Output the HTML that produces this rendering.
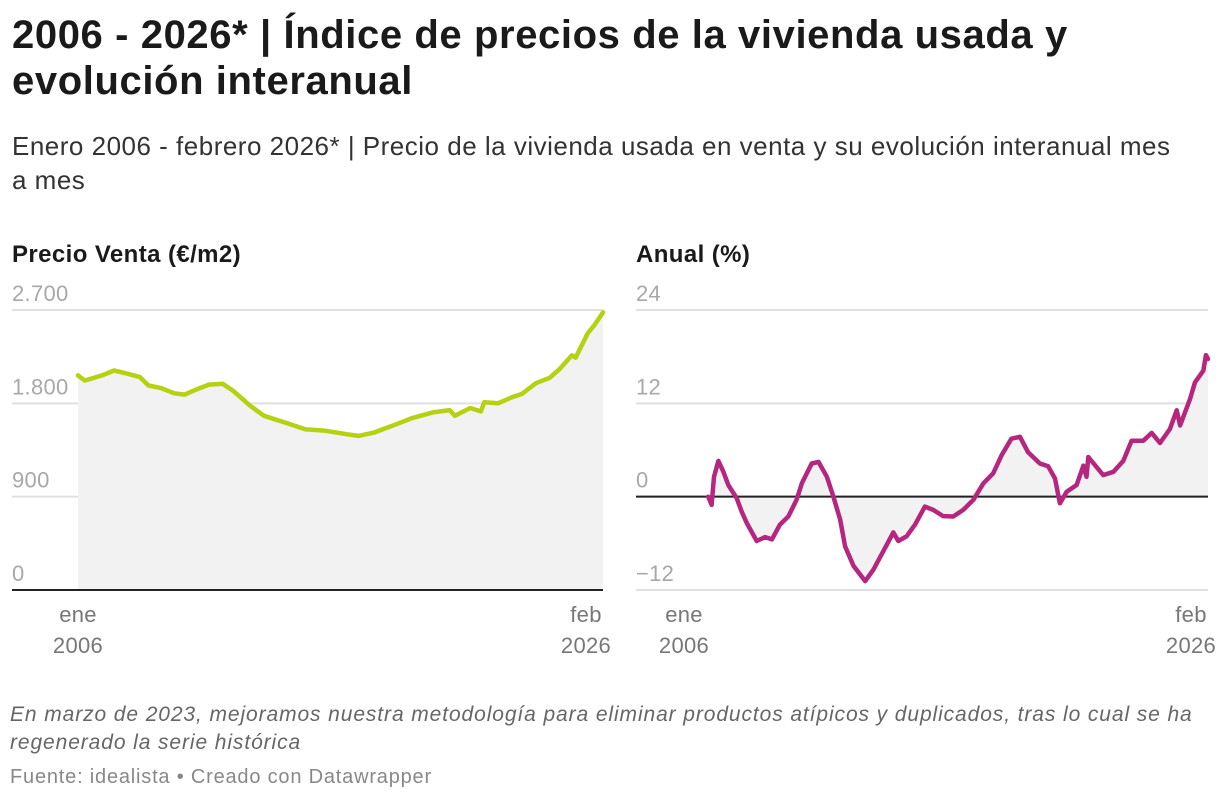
<!DOCTYPE html>
<html><head><meta charset="utf-8">
<style>
body{margin:0;background:#fff;width:1220px;height:802px;overflow:hidden;font-family:"Liberation Sans",sans-serif;}
.t{position:absolute;left:12px;top:12px;font-size:40px;letter-spacing:0.6px;font-weight:bold;color:#1a1a1a;line-height:46px;width:1200px;}
.s{position:absolute;left:12px;top:129px;font-size:26px;letter-spacing:0.5px;color:#333;line-height:34px;width:1170px;}
.n{position:absolute;left:10px;top:701px;font-size:21px;letter-spacing:0.9px;font-style:italic;color:#666;line-height:28px;width:1210px;}
.f{position:absolute;left:10px;top:766px;font-size:20px;letter-spacing:0.8px;color:#888;}
svg{position:absolute;left:0;top:0;}
</style></head><body>
<div class="t">2006 - 2026* | Índice de precios de la vivienda usada y evolución interanual</div>
<div class="s">Enero 2006 - febrero 2026* | Precio de la vivienda usada en venta y su evolución interanual mes a mes</div>
<div class="n">En marzo de 2023, mejoramos nuestra metodología para eliminar productos atípicos y duplicados, tras lo cual se ha regenerado la serie histórica</div>
<div class="f">Fuente: idealista • Creado con Datawrapper</div>
<svg id="c" width="1220" height="802"></svg>
<script>
const priceYears=[2006.0,2006.26,2006.92,2007.38,2007.91,2008.37,2008.7,2009.16,2009.69,2010.09,2010.48,2011.01,2011.54,2011.93,2012.59,2013.12,2014.04,2014.7,2015.49,2016.28,2016.74,2017.33,2018.13,2018.78,2019.58,2020.23,2020.43,2021.02,2021.42,2021.55,2022.08,2022.61,2023.0,2023.53,2024.06,2024.45,2024.91,2025.05,2025.51,2025.77,2026.1];
const priceValues=[2069,2020,2069,2117,2085,2053,1972,1949,1897,1884,1929,1981,1988,1923,1777,1680,1606,1551,1535,1502,1486,1518,1593,1657,1713,1735,1680,1755,1722,1810,1800,1858,1891,1994,2046,2133,2263,2240,2473,2554,2677];
const priceTicks=[0,900,1800,2700];
const priceTickLabels=["0","900","1.800","2.700"];
const yoyYears=[2006.93,2007.06,2007.15,2007.32,2007.51,2007.7,2008.02,2008.21,2008.41,2008.79,2009.11,2009.37,2009.68,2010.0,2010.32,2010.52,2010.9,2011.16,2011.48,2011.73,2011.99,2012.18,2012.5,2012.95,2013.26,2013.65,2014.03,2014.22,2014.54,2014.86,2015.24,2015.56,2015.94,2016.33,2016.71,2017.1,2017.48,2017.86,2018.18,2018.56,2018.89,2019.2,2019.65,2019.97,2020.23,2020.42,2020.68,2021.06,2021.32,2021.44,2021.51,2022.08,2022.47,2022.85,2023.17,2023.62,2023.94,2024.26,2024.64,2024.9,2025.03,2025.41,2025.6,2025.92,2026.02,2026.1];
const yoyValues=[0,-1.06,2.55,4.6,3.2,1.5,-0.2,-1.9,-3.4,-5.7,-5.2,-5.5,-3.6,-2.55,-0.4,1.7,4.26,4.47,2.55,0,-2.98,-6.4,-8.9,-10.85,-9.4,-7.0,-4.6,-5.7,-5.1,-3.6,-1.28,-1.7,-2.5,-2.55,-1.7,-0.4,1.7,3.0,5.3,7.45,7.7,5.7,4.26,3.9,2.34,-0.85,0.64,1.5,4.0,2.55,5.1,2.77,3.2,4.6,7.2,7.2,8.2,6.9,8.7,11.1,9.15,12.55,14.7,16.2,18.2,17.7];
const yoyTicks=[-12,0,12,24];
const yoyTickLabels=["−12","0","12","24"];
const NS="http://www.w3.org/2000/svg";
const svg=document.getElementById('c');
function mk(tag,attrs,parent){const e=document.createElementNS(NS,tag);for(const k in attrs)e.setAttribute(k,attrs[k]);(parent||svg).appendChild(e);return e;}
function txt(x,y,s,attrs){const e=mk('text',Object.assign({x:x,y:y,'font-family':'Liberation Sans, sans-serif'},attrs));e.textContent=s;return e;}
function panel(o){
  const g=mk('g',{});
  
  
  const X=t=>o.x0+(t-2006)/(2026.1-2006)*(o.x1-o.x0);
  const Y=v=>o.yb+(v-o.vmin)/(o.vmax-o.vmin)*(o.yt-o.yb);
  const t0=txt(o.gx,262,o.title,{'font-size':24,'letter-spacing':0.4,'font-weight':'bold',fill:'#1a1a1a'});
  
  
  o.ticks.forEach((v,i)=>{
    const l=mk('line',{x1:o.gx,x2:o.x1,y1:Y(v),y2:Y(v),stroke:'#e0e0e0','stroke-width':2},g);
    
    
    const t=txt(o.gx,Y(v)-9,o.labels[i],{'font-size':22,'letter-spacing':0.3,fill:'#a8a8a8'});
    
    
  });
  let d='';o.xs.forEach((t,i)=>{d+=(i?'L':'M')+X(t).toFixed(1)+','+Y(o.vs[i]).toFixed(1);});
  const base=Y(o.base);
  const a=mk('path',{d:d+'L'+X(o.xs[o.xs.length-1]).toFixed(1)+','+base+'L'+X(o.xs[0]).toFixed(1)+','+base+'Z',fill:'#f2f2f2'},g);
  
  
  const bl=mk('line',{x1:o.gx,x2:o.x1,y1:base,y2:base,stroke:'#222','stroke-width':2},g);
  
  
  const p=mk('path',{d:d,fill:'none',stroke:o.color,'stroke-width':4.5,'stroke-linejoin':'round','stroke-linecap':'round'},g);
  
  
  [[o.x0,'ene','2006'],[o.x1-17,'feb','2026']].forEach(([x,m,y])=>{
    const a1=txt(x,622,m,{'font-size':22,'letter-spacing':0.3,fill:'#777','text-anchor':'middle'});
    
    
    const a2=txt(x,653,y,{'font-size':22,'letter-spacing':0.3,fill:'#777','text-anchor':'middle'});
    
    
  });
}
panel({name:'price-chart',title:'Precio Venta (€/m2)',gx:12,x0:78,x1:603,yt:310,yb:590,vmin:0,vmax:2700,ticks:priceTicks,labels:priceTickLabels,xs:priceYears,vs:priceValues,base:0,color:'#b5d10f'});
panel({name:'yoy-chart',title:'Anual (%)',gx:636,x0:684,x1:1208,yt:310,yb:590,vmin:-12,vmax:24,ticks:yoyTicks,labels:yoyTickLabels,xs:yoyYears,vs:yoyValues,base:0,color:'#b5267f'});
</script>
</body></html>
